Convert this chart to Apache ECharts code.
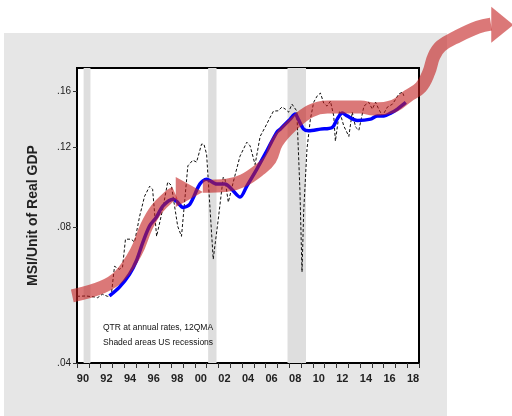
<!DOCTYPE html>
<html><head><meta charset="utf-8">
<script src="https://cdn.jsdelivr.net/npm/echarts@6/dist/echarts.min.js"></script>
<style>html,body{margin:0;padding:0;background:#fff}#c{width:512px;height:416px}</style>
</head><body><div id="c"></div>
<script>
// ---- data ----
const blackYears = [1990.0,1990.75,1991.5,1991.75,1992.15,1992.58,1992.9,1993.18,1993.6,1993.86,1994.11,1994.6,1994.88,1995.31,1995.73,1996.16,1996.41,1996.75,1997.27,1997.69,1998.0,1998.54,1998.86,1999.4,1999.82,2000.14,2000.56,2000.76,2000.99,2001.55,2001.98,2002.4,2002.55,2002.83,2003.25,2003.82,2004.4,2004.68,2005.1,2005.53,2005.96,2006.38,2006.66,2007.06,2007.38,2007.66,2007.94,2008.23,2008.37,2008.64,2008.9,2009.08,2009.22,2009.5,2009.79,2010.07,2010.36,2010.64,2010.92,2011.2,2011.49,2011.77,2011.91,2012.26,2012.62,2013.05,2013.34,2013.62,2013.9,2014.33,2014.73,2015.04,2015.32,2015.58,2015.9,2016.32,2016.75,2017.03,2017.28,2017.6,2017.71];
const blackValues = [0.0562,0.0563,0.0560,0.0558,0.0568,0.0562,0.0563,0.0655,0.0645,0.0652,0.0752,0.0752,0.0741,0.0845,0.0936,0.0985,0.0970,0.0763,0.0877,0.1006,0.0990,0.0803,0.0763,0.1093,0.1125,0.1114,0.1221,0.1221,0.1160,0.0679,0.0833,0.1032,0.1021,0.0908,0.1006,0.1148,0.1233,0.1210,0.1100,0.1270,0.1332,0.1400,0.1445,0.1447,0.1475,0.1460,0.1437,0.1497,0.1512,0.1445,0.0970,0.0636,0.0863,0.1190,0.1387,0.1512,0.1560,0.1584,0.1505,0.1482,0.1520,0.1410,0.1240,0.1445,0.1340,0.1270,0.1437,0.1332,0.1310,0.1482,0.1512,0.1460,0.1512,0.1460,0.1410,0.1475,0.1497,0.1536,0.1576,0.1592,0.1562];

const blueYears = [1992.75,1993.6,1994.45,1995.03,1995.59,1996.16,1996.73,1997.29,1998.14,1998.43,1999.0,1999.57,2000.42,2000.99,2001.84,2002.55,2003.12,2003.83,2004.4,2005.25,2006.1,2006.95,2007.23,2008.08,2008.5,2008.76,2009.22,2009.64,2010.64,2011.64,2012.06,2012.49,2012.91,2013.77,2014.9,2015.47,2016.03,2016.6,2017.17,2017.88];
const blueValues = [0.0563,0.0589,0.0629,0.0673,0.0741,0.0805,0.0841,0.0891,0.0922,0.0913,0.0884,0.0899,0.0996,0.1021,0.0996,0.0996,0.0970,0.0932,0.0986,0.1075,0.1180,0.1298,0.1318,0.1387,0.1423,0.1387,0.1318,0.1307,0.1318,0.1329,0.1387,0.1431,0.1410,0.1378,0.1387,0.1410,0.1410,0.1430,0.1460,0.1510];

// hand-drawn trend arrow (annotation), in chart units
const arrow1Years = [1989.6,1992.15,1993.6,1995.0,1995.9,1996.75,1997.86,1998.3];
const arrow1Values = [0.0563,0.0589,0.0623,0.0704,0.0803,0.0876,0.0937,0.0952];
const arrow2Years = [2000.67,2002.7,2004.08,2005.53,2006.38,2006.97,2008.34,2009.79,2011.24,2012.6,2014.05,2015.15,2016.86,2018.05,2019.16,2019.84,2020.26,2020.86,2022.31,2024.0,2025.1];
const arrow2Values = [0.0985,0.0990,0.1014,0.1075,0.1130,0.1233,0.1352,0.1445,0.1475,0.1475,0.1475,0.1460,0.1482,0.1560,0.1633,0.1763,0.1910,0.2013,0.2118,0.2217,0.2252];
const arrowHeadYears = [1999.52, 2026.06];
const arrowHeadValues = [0.0956, 0.2243];

const recessions = [[1990.56,1991.14],[2001.12,2001.83],[2007.85,2009.42]];

const yTicks = [0.04,0.08,0.12,0.16];
const xTickYears = [1990,1991,1992,1993,1994,1995,1996,1997,1998,1999,2000,2001,2002,2003,2004,2005,2006,2007,2008,2009,2010,2011,2012,2013,2014,2015,2016,2017,2018,2019];
const xLabelYears = [1990,1992,1994,1996,1998,2000,2002,2004,2006,2008,2010,2012,2014,2016,2018];

// ---- layout ----
const X_MIN = 1990, X_MAX = 2019, Y_MIN = 0.04, Y_MAX = 0.18;
const G = {left: 77, top: 68, right: 93, bottom: 53};
const W = 512, H = 416;
const gw = W - G.left - G.right, gh = H - G.top - G.bottom;
// overlay grid for the arrow that leaves the frame: same scale, extended to the canvas edge
const gw2 = W - G.left, gh2 = H - G.bottom - 2;
const X_MAX_EXT = X_MIN + (X_MAX - X_MIN) * gw2 / gw;
const Y_MAX_EXT = Y_MIN * Math.exp(Math.log(Y_MAX / Y_MIN) * gh2 / gh);

const pair = (xs, ys) => xs.map((x, i) => [x, ys[i]]);
const RED = 'rgba(195,30,30,0.6)';
const FONT = '"Liberation Sans",Arial,sans-serif';
const chart = echarts.init(document.getElementById('c'));
chart.setOption({
  animation: false,
  backgroundColor: '#fff',
  graphic: [{type: 'rect', z: -100, silent: true, left: 4, top: 33,
    shape: {width: 443, height: 383}, style: {fill: '#e6e6e6'}}],
  title: {text: 'QTR at annual rates, 12QMA\nShaded areas US recessions', left: 98, top: 315,
    textStyle: {fontFamily: FONT, fontSize: 8.5, fontWeight: 'normal', color: '#111', lineHeight: 15}},
  grid: [
    {left: G.left, top: G.top, right: G.right, bottom: G.bottom, show: true, backgroundColor: '#fff',
      borderColor: '#000', borderWidth: 2},
    {left: G.left, bottom: G.bottom, width: gw2, height: gh2, show: false}
  ],
  xAxis: [
    {type: 'value', min: X_MIN, max: X_MAX, gridIndex: 0,
      axisLine: {show: false}, splitLine: {show: false},
      axisTick: {show: true, customValues: xTickYears, length: 5, lineStyle: {color: '#333'}},
      axisLabel: {customValues: xLabelYears.map(y => y + 0.5), formatter: v => String(Math.floor(v)).slice(2),
        fontFamily: FONT, fontSize: 11, fontWeight: 'bold', color: '#222', margin: 10}},
    {type: 'value', min: X_MIN, max: X_MAX_EXT, gridIndex: 1, show: false}
  ],
  yAxis: [
    {type: 'log', logBase: 10, min: Y_MIN, max: Y_MAX, gridIndex: 0,
      name: 'MSI/Unit of Real GDP', nameLocation: 'middle', nameGap: 37,
      nameTextStyle: {fontFamily: FONT, fontWeight: 'bold', fontSize: 14, color: '#222'},
      axisLine: {show: false}, splitLine: {show: false}, minorTick: {show: false},
      axisTick: {show: true, customValues: yTicks, length: 4, lineStyle: {color: '#333'}},
      axisLabel: {customValues: yTicks, formatter: v => v.toFixed(2).replace(/^0/, ''),
        fontFamily: FONT, fontSize: 10, color: '#222', margin: 6}},
    {type: 'log', logBase: 10, min: Y_MIN, max: Y_MAX_EXT, gridIndex: 1, show: false}
  ],
  series: [
    {type: 'line', data: [], z: 1, markArea: {silent: true, itemStyle: {color: '#dedede'},
      data: recessions.map(r => [{xAxis: r[0]}, {xAxis: r[1]}])}},
    {type: 'line', data: pair(blackYears, blackValues), showSymbol: false, z: 2,
      lineStyle: {color: '#111', width: 1, type: [3, 2]}},
    {type: 'line', data: pair(blueYears, blueValues), showSymbol: false, smooth: 0.3, z: 3,
      lineStyle: {color: '#0000ff', width: 3.5}},
    {type: 'line', xAxisIndex: 1, yAxisIndex: 1, data: pair(arrow1Years, arrow1Values), showSymbol: false,
      smooth: 0.4, clip: false, z: 4, lineStyle: {color: RED, width: 13, cap: 'butt'},
      markPoint: {silent: true, label: {show: false}, data: [{coord: [arrowHeadYears[0], arrowHeadValues[0]],
        symbol: 'triangle', symbolSize: [30, 27], symbolRotate: -90, itemStyle: {color: RED}}]}},
    {type: 'line', xAxisIndex: 1, yAxisIndex: 1, data: pair(arrow2Years, arrow2Values), showSymbol: false,
      smooth: 0.4, clip: false, z: 4, lineStyle: {color: RED, width: 13, cap: 'butt'},
      markPoint: {silent: true, label: {show: false}, data: [{coord: [arrowHeadYears[1], arrowHeadValues[1]],
        symbol: 'triangle', symbolSize: [36, 22], symbolRotate: -90, itemStyle: {color: RED}}]}}
  ]
});
</script></body></html>
